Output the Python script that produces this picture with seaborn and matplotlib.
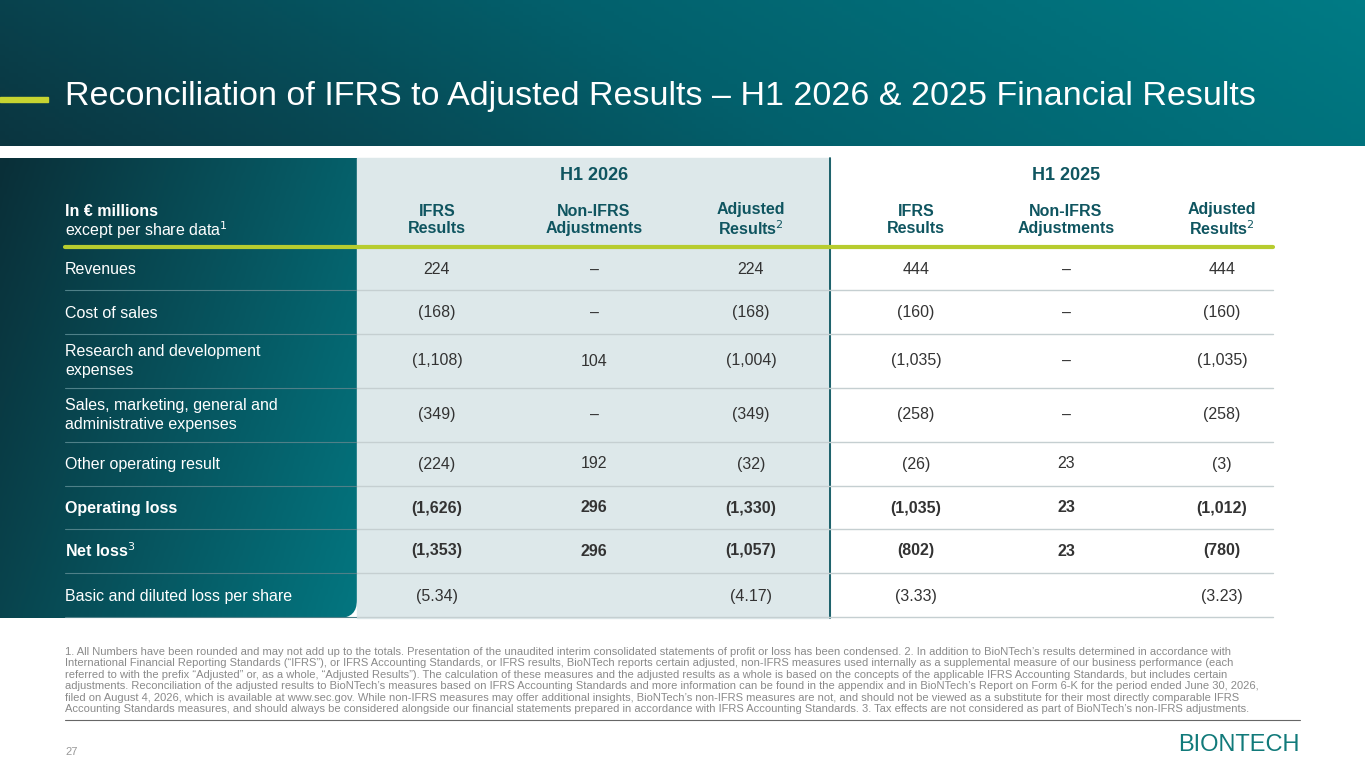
import numpy as np
import matplotlib
matplotlib.use("Agg")
import matplotlib.pyplot as plt
import seaborn as sns
from matplotlib.patches import FancyBboxPatch, Rectangle
from matplotlib.colors import LinearSegmentedColormap

sns.set_style("white")
plt.rcParams['font.family'] = ['Liberation Sans', 'DejaVu Sans']

title = "Reconciliation of IFRS to Adjusted Results – H1 2026 & 2025 Financial Results"
periods = ["H1 2026", "H1 2025"]
col_headers = ["IFRS\nResults", "Non-IFRS\nAdjustments", "Adjusted\nResults$^2$"] * 2
row_labels = ["Revenues", "Cost of sales", "Research and development\nexpenses",
              "Sales, marketing, general and\nadministrative expenses", "Other operating result",
              "Operating loss", "Net loss$^3$", "Basic and diluted loss per share"]
bold_rows = [False, False, False, False, False, True, True, False]
h1_2026_ifrs = ["224", "(168)", "(1,108)", "(349)", "(224)", "(1,626)", "(1,353)", "(5.34)"]
h1_2026_adj = ["–", "–", "104", "–", "192", "296", "296", ""]
h1_2026_res = ["224", "(168)", "(1,004)", "(349)", "(32)", "(1,330)", "(1,057)", "(4.17)"]
h1_2025_ifrs = ["444", "(160)", "(1,035)", "(258)", "(26)", "(1,035)", "(802)", "(3.33)"]
h1_2025_adj = ["–", "–", "–", "–", "23", "23", "23", ""]
h1_2025_res = ["444", "(160)", "(1,035)", "(258)", "(3)", "(1,012)", "(780)", "(3.23)"]
footnote = [
 "1. All Numbers have been rounded and may not add up to the totals. Presentation of the unaudited interim consolidated statements of profit or loss has been condensed. 2. In addition to BioNTech’s results determined in accordance with",
 "International Financial Reporting Standards (“IFRS”), or IFRS Accounting Standards, or IFRS results, BioNTech reports certain adjusted, non-IFRS measures used internally as a supplemental measure of our business performance (each",
 "referred to with the prefix “Adjusted” or, as a whole, “Adjusted Results”). The calculation of these measures and the adjusted results as a whole is based on the concepts of the applicable IFRS Accounting Standards, but includes certain",
 "adjustments. Reconciliation of the adjusted results to BioNTech’s measures based on IFRS Accounting Standards and more information can be found in the appendix and in BioNTech’s Report on Form 6-K for the period ended June 30, 2026,",
 "filed on August 4, 2026, which is available at www.sec.gov. While non-IFRS measures may offer additional insights, BioNTech’s non-IFRS measures are not, and should not be viewed as a substitute for their most directly comparable IFRS",
 "Accounting Standards measures, and should always be considered alongside our financial statements prepared in accordance with IFRS Accounting Standards. 3. Tax effects are not considered as part of BioNTech’s non-IFRS adjustments.",
]

W, H = 1365, 768
fig = plt.figure(figsize=(W/100, H/100), dpi=100)
ax = fig.add_axes([0, 0, 1, 1])
ax.set_xlim(0, W); ax.set_ylim(H, 0); ax.axis("off")

# header gradient
xx = np.linspace(0, 1, 300)[None, :]
yy = np.linspace(0, 1, 40)[:, None]
g = np.clip(xx * 0.85 + (1 - yy) * 0.15, 0, 1)
cm_head = LinearSegmentedColormap.from_list("h", ["#0b3540", "#03606c", "#007b85"])
ax.imshow(g, cmap=cm_head, extent=[0, W, 146, 0], aspect="auto", zorder=0)
ax.add_patch(Rectangle((0, 97), 48, 5, color="#c6d431", zorder=2))
ax.text(65, 96, title, color="white", fontsize=24.5, va="center", ha="left", zorder=3)

# left panel gradient
top, bot = 158, 618
g2 = np.clip(np.linspace(0, 1, 200)[None, :] * 0.7 + np.linspace(0, 1, 60)[:, None] * 0.3, 0, 1)
cm_left = LinearSegmentedColormap.from_list("l", ["#0a2f38", "#07525c", "#037680"])
im = ax.imshow(g2, cmap=cm_left, extent=[0, 357, bot, top], aspect="auto", zorder=1)
clip = FancyBboxPatch((-30, top - 60), 387, bot - top + 60, boxstyle="round,pad=0,rounding_size=18",
                      transform=ax.transData, facecolor="none", edgecolor="none")
ax.add_patch(clip); im.set_clip_path(clip)
ax.add_patch(Rectangle((357, top), 473, bot - top, color="#dde8ea", zorder=1))
ax.plot([830, 830], [top, bot], color="#0b5560", lw=1.3, zorder=3)

# lines
ax.plot([65, 1273], [247, 247], color="#b7cc2f", lw=3, zorder=3)
seps = [290, 334, 388, 442, 486, 529, 573, 617]
for y in seps:
    ax.plot([65, 357], [y, y], color="#4f8088", lw=0.8, zorder=3)
    ax.plot([357, 1273], [y, y], color="#c5cfd1", lw=1, zorder=3)

cols = [437, 594, 751, 916, 1066, 1222]
hc = "#0f5560"
ax.text(594, 176, periods[0], ha="center", va="center", fontsize=13, fontweight="bold", color=hc, zorder=4)
ax.text(1066, 176, periods[1], ha="center", va="center", fontsize=13, fontweight="bold", color=hc, zorder=4)
for x, t in zip(cols, col_headers):
    ax.text(x, 220, t, ha="center", va="center", fontsize=11.5, fontweight="bold", color=hc, linespacing=1.15, zorder=4)
ax.text(65, 212, "In € millions", ha="left", va="center", fontsize=11.5, fontweight="bold", color="white", zorder=4)
ax.text(65, 230, "except per share data$^1$", ha="left", va="center", fontsize=11.5, color="white", zorder=4)

rows_y = [270, 313, 361, 415, 464, 508, 551, 596]
data = [h1_2026_ifrs, h1_2026_adj, h1_2026_res, h1_2025_ifrs, h1_2025_adj, h1_2025_res]
for i, (y, lab, b) in enumerate(zip(rows_y, row_labels, bold_rows)):
    fw = "bold" if b else "normal"
    ax.text(65, y, lab, ha="left", va="center", fontsize=11.5, color="white", fontweight=fw, linespacing=1.3, zorder=4)
    for x, col in zip(cols, data):
        ax.text(x, y, col[i], ha="center", va="center", fontsize=11.5, color="#333333", fontweight=fw, zorder=4)

for k, line in enumerate(footnote):
    ax.text(65, 652 + k * 11.4, line, ha="left", va="center", fontsize=8.05, color="#8a8a8a", zorder=4)
ax.plot([65, 1300], [720, 720], color="#666666", lw=0.8)
ax.text(65, 752, "27", ha="left", va="center", fontsize=8, color="#999999")
ax.text(1300, 745, "BIONTECH", ha="right", va="center", fontsize=17, color="#117a7a", fontweight="light")

fig.savefig("out.png", dpi=100)
